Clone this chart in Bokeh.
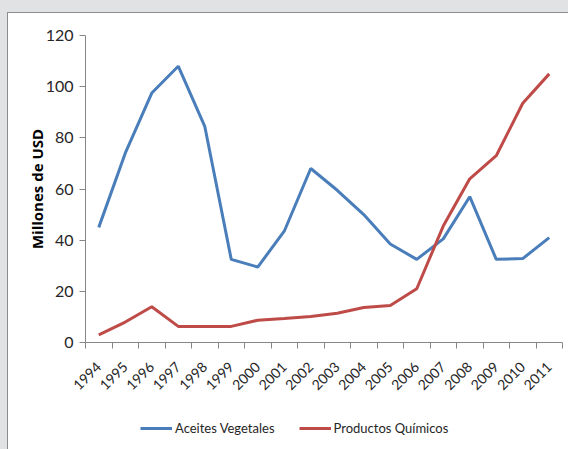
from math import pi
from bokeh.plotting import figure
from bokeh.models import (FixedTicker, Range1d, Legend, LegendItem, Label,
                          GlobalInlineStyleSheet)
from bokeh.embed import file_html
from bokeh.resources import INLINE

years = ["1994", "1995", "1996", "1997", "1998", "1999", "2000", "2001", "2002",
         "2003", "2004", "2005", "2006", "2007", "2008", "2009", "2010", "2011"]
aceites = [45, 74, 97.5, 108, 84.5, 32.5, 29.5, 43.5, 68, 59.5, 50, 38.5, 32.5,
           40.5, 57, 32.5, 32.8, 41]
quimicos = [3, 8, 14, 6.3, 6.3, 6.3, 8.7, 9.4, 10.2, 11.4, 13.7, 14.5, 21,
            45.5, 64, 73, 93.5, 105]
y_ticks = [0, 20, 40, 60, 80, 100, 120]
y_title = "Millones de USD"

FONT = "Lato"
BLUE = "#4a7ebb"
RED = "#be4b48"
W, H = 568, 449

xs = [i + 0.5 for i in range(len(years))]

# the frame fills the whole figure; axes sit at data positions
px_x = (562 - 85) / len(years)
px_y = (342 - 35) / 120.0
x_range = Range1d(-85 / px_x, len(years) + (W - 562) / px_x)
y_range = Range1d(-(H - 342) / px_y, 120 + 35 / px_y)

p = figure(width=W, height=H, output_backend="svg", toolbar_location=None,
           x_range=x_range, y_range=y_range,
           min_border_left=0, min_border_top=0, min_border_bottom=0,
           min_border_right=0)
p.border_fill_alpha = 0
p.background_fill_alpha = 0
p.outline_line_color = None
p.xgrid.visible = False
p.ygrid.visible = False

r1 = p.line(xs, aceites, line_color=BLUE, line_width=3)
r2 = p.line(xs, quimicos, line_color=RED, line_width=3)

xa = p.xaxis[0]
xa.fixed_location = 0
xa.bounds = (0, len(years))
xa.ticker = FixedTicker(ticks=xs, minor_ticks=list(range(len(years) + 1)))
xa.major_label_overrides = {x: y for x, y in zip(xs, years)}
xa.major_tick_line_color = None
xa.minor_tick_line_color = "#868686"
xa.minor_tick_in = 0
xa.minor_tick_out = 6
xa.axis_line_color = "#868686"
xa.major_label_orientation = pi / 4
xa.major_label_standoff = 16
xa.major_label_text_font = FONT
xa.major_label_text_font_size = "14px"
xa.major_label_text_color = "#262626"

ya = p.yaxis[0]
ya.fixed_location = 0
ya.bounds = (0, 120)
ya.ticker = FixedTicker(ticks=y_ticks)
ya.minor_tick_line_color = None
ya.major_tick_in = 0
ya.major_tick_out = 6
ya.major_tick_line_color = "#868686"
ya.axis_line_color = "#868686"
ya.major_label_text_font = FONT
ya.major_label_text_font_size = "16px"
ya.major_label_text_color = "#262626"
ya.major_label_standoff = 6

p.add_layout(Label(x=-(85 - 36) / px_x, y=60, text=y_title, angle=pi / 2,
                   text_align="center", text_baseline="middle",
                   text_font="Open Sans", text_font_style="bold",
                   text_font_size="15px", text_color="black"))

legend = Legend(items=[LegendItem(label="Aceites Vegetales", renderers=[r1]),
                       LegendItem(label="Productos Químicos", renderers=[r2])],
                orientation="horizontal", location=(140, 11),
                glyph_width=32, glyph_height=20, label_standoff=3, spacing=24,
                padding=0, margin=0, border_line_color=None,
                background_fill_alpha=0,
                label_text_font=FONT, label_text_font_size="13px",
                label_text_color="#262626")
p.add_layout(legend, "center")

p.stylesheets = [GlobalInlineStyleSheet(css="""
html {
  background:
    linear-gradient(#8c8c8c,#8c8c8c) 7px 12px / 100% 1px no-repeat,
    linear-gradient(#8c8c8c,#8c8c8c) 7px 12px / 1px 100% no-repeat,
    linear-gradient(#e1e2e4,#e1e2e4) 0 0 / 100% 12px no-repeat,
    linear-gradient(#e1e2e4,#e1e2e4) 0 0 / 7px 100% no-repeat,
    white;
}
""")]

open("out.html", "w").write(file_html(p, INLINE))
